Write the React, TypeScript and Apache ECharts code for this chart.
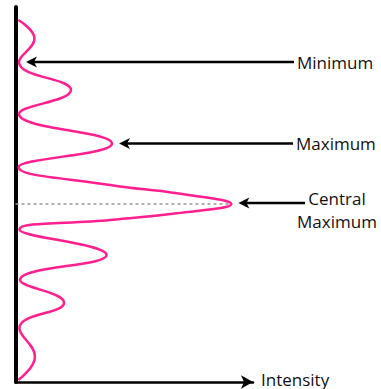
import React, { useEffect, useRef } from "react";
import * as echarts from "echarts";

// Relative intensity (% of central maximum) along the screen
const intensity = [1.3, 8.8, 1.6, 25.7, 1.6, 44.7, 1.4, 43.8, 74.7, 100, 74.7, 43.8, 1.8, 42.2, 2.1, 22.5, 1.8, 9.0, 1.3];
// Position on the screen relative to the centre (arbitrary units, up positive)
const position = [18.4, 16.55, 14.2, 11.4, 9.0, 6.05, 3.67, 1.9, 1.07, 0, -0.93, -1.6, -2.55, -5.1, -7.6, -9.87, -12.4, -15.27, -17.6];

// annotations: which point each arrow points at
const annotationLabels = ["Minimum", "Maximum", "Central\nMaximum"];
const annotationIndex = [2, 5, 9];
const axisLabel = "Intensity";

const FONT = "'Open Sans', sans-serif";

export default function App() {
  const ref = useRef<HTMLDivElement>(null);
  useEffect(() => {
    if (!ref.current) return;
    const chart = echarts.init(ref.current, null, { renderer: "svg" });
    const data = intensity.map((v, i) => [v, position[i]]);
    const c = annotationIndex[2];
    chart.setOption({
      animation: false,
      grid: { left: 15.5, top: 7, right: 128, bottom: 7 },
      xAxis: {
        type: "value",
        min: 0,
        max: 110,
        axisLine: {
          show: true,
          onZero: false,
          symbol: ["none", "arrow"],
          symbolSize: [10, 12],
          lineStyle: { color: "#000", width: 2.5 },
        },
        axisTick: { show: false },
        axisLabel: { show: false },
        splitLine: { show: false },
      },
      yAxis: {
        type: "value",
        min: -17.8,
        max: 19.7,
        axisLine: { show: true, onZero: false, lineStyle: { color: "#000", width: 4 } },
        axisTick: { show: false },
        axisLabel: { show: false },
        splitLine: { show: false },
      },
      series: [
        {
          type: "line",
          data: [[0, position[c]], [intensity[c], position[c]]],
          showSymbol: false,
          lineStyle: { color: "#999", width: 1.5, type: [3, 3] },
          z: 1,
        },
        {
          type: "line",
          data,
          smooth: 0.45,
          showSymbol: false,
          clip: false,
          lineStyle: { color: "#ff1f8e", width: 2.5 },
          z: 2,
        },
      ],
    });

    const lineEnds = [294, 293, 305];
    const graphic: any[] = [];
    annotationIndex.forEach((idx, k) => {
      const p = chart.convertToPixel({ gridIndex: 0 }, [intensity[idx], position[idx]]) as number[];
      const tipX = p[0] + 7;
      const y = k === 2 ? p[1] - 1 : p[1];
      graphic.push({
        type: "line",
        shape: { x1: tipX + 6, y1: y, x2: lineEnds[k], y2: y },
        style: { stroke: "#000", lineWidth: 2.5 },
      });
      graphic.push({
        type: "polygon",
        shape: { points: [[tipX, y], [tipX + 11, y - 5.5], [tipX + 8, y], [tipX + 11, y + 5.5]] },
        style: { fill: "#000" },
      });
      if (k < 2) {
        graphic.push({
          type: "text",
          x: lineEnds[k] + 3,
          y: y,
          style: { text: annotationLabels[k], font: `17px ${FONT}`, fill: "#111", align: "left", verticalAlign: "middle" },
        });
      } else {
        graphic.push({
          type: "text",
          x: 337,
          y: y + 7,
          style: { text: annotationLabels[k], font: `17px ${FONT}`, fill: "#111", align: "center", verticalAlign: "middle", lineHeight: 23 },
        });
      }
    });
    graphic.push({
      type: "text",
      x: 261,
      y: 379,
      style: { text: axisLabel, font: `17px ${FONT}`, fill: "#111", align: "left", verticalAlign: "middle", lineHeight: 17 },
    });
    chart.setOption({ graphic });
    return () => chart.dispose();
  }, []);
  return <div ref={ref} style={{ position: "fixed", left: 0, top: 0, width: 381, height: 389, background: "#fff" }} />;
}
